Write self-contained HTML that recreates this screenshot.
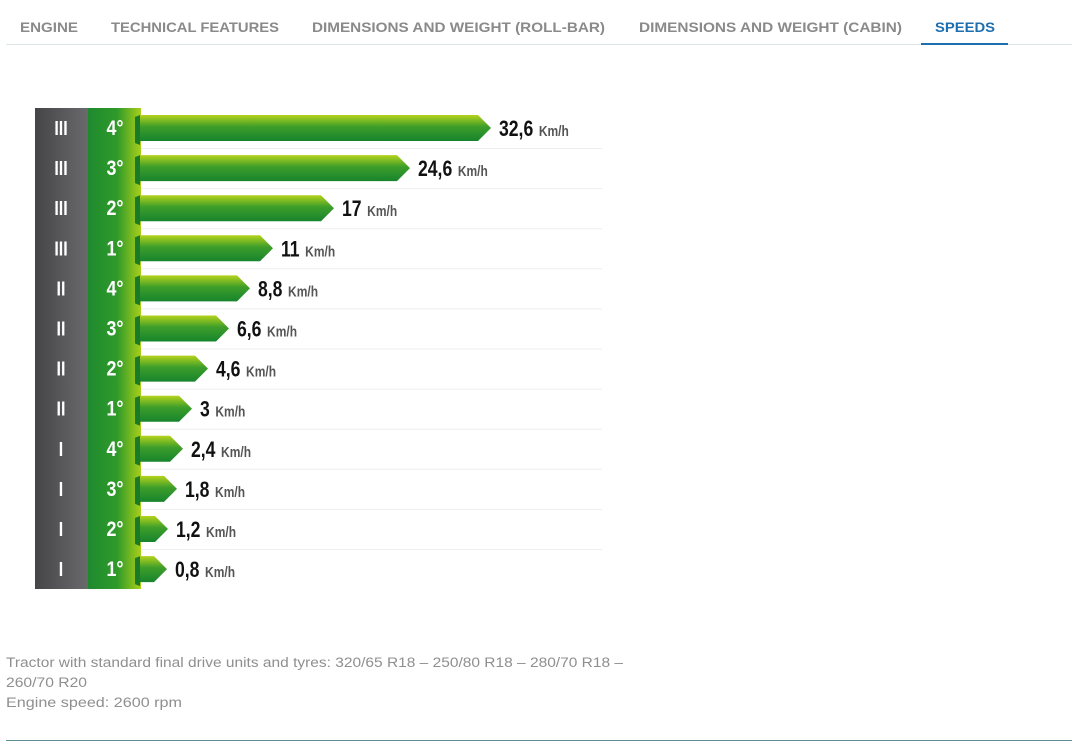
<!DOCTYPE html>
<html><head><meta charset="utf-8"><style>
body{margin:0;width:1072px;height:753px;background:#fff;overflow:hidden;font-family:"Liberation Sans",sans-serif;position:relative}
</style></head><body>
<svg id="s" width="1072" height="753" style="position:absolute;left:0;top:0">
<defs>
<linearGradient id="gray" x1="0" x2="1"><stop offset="0" stop-color="#454548"/><stop offset="1" stop-color="#6a6a6c"/></linearGradient>
<linearGradient id="gc" x1="0" x2="1"><stop offset="0" stop-color="#1e8a2e"/><stop offset="0.55" stop-color="#2f9a2a"/><stop offset="1" stop-color="#a9cf1a"/></linearGradient>
<linearGradient id="bar" x1="0" y1="0" x2="0" y2="1"><stop offset="0" stop-color="#b5d31c"/><stop offset="0.45" stop-color="#3d9e2a"/><stop offset="1" stop-color="#17842c"/></linearGradient>
</defs>
<rect x="6" y="44" width="1066" height="1" fill="#dfe6e9"/>
<g font-size="14" font-weight="bold" fill="#8a8a8a" font-family="Liberation Sans, sans-serif">
<text x="20" y="32" textLength="58" lengthAdjust="spacingAndGlyphs">ENGINE</text>
<text x="111" y="32" textLength="168" lengthAdjust="spacingAndGlyphs">TECHNICAL FEATURES</text>
<text x="312" y="32" textLength="293" lengthAdjust="spacingAndGlyphs">DIMENSIONS AND WEIGHT (ROLL-BAR)</text>
<text x="639" y="32" textLength="263" lengthAdjust="spacingAndGlyphs">DIMENSIONS AND WEIGHT (CABIN)</text>
<text x="935" y="32" textLength="60" lengthAdjust="spacingAndGlyphs" fill="#1e6fb0">SPEEDS</text>
</g>
<rect x="921" y="43" width="87" height="2" fill="#1e6fb0"/>
<rect x="35" y="108" width="53" height="481" fill="url(#gray)"/>
<rect x="88" y="108" width="53" height="481" fill="url(#gc)"/>
<g id="rows"></g>
<g font-size="13.5" fill="#8f8f8f" font-family="Liberation Sans, sans-serif">
<text x="6" y="667" textLength="617" lengthAdjust="spacingAndGlyphs">Tractor with standard final drive units and tyres: 320/65 R18 – 250/80 R18 – 280/70 R18 –</text>
<text x="6" y="687" textLength="81" lengthAdjust="spacingAndGlyphs">260/70 R20</text>
<text x="6" y="707" textLength="176" lengthAdjust="spacingAndGlyphs">Engine speed: 2600 rpm</text>
</g>
<rect x="6" y="740" width="1066" height="1" fill="#5a8f98"/>
</svg>
<script>
var d=[["III","4°",491,"32,6"],["III","3°",410,"24,6"],["III","2°",334,"17"],["III","1°",273,"11"],["II","4°",250,"8,8"],["II","3°",229,"6,6"],["II","2°",208,"4,6"],["II","1°",192,"3"],["I","4°",183,"2,4"],["I","3°",177,"1,8"],["I","2°",168,"1,2"],["I","1°",167,"0,8"]];
var h="";
var F='font-family="Liberation Sans, sans-serif" font-weight="bold"';
d.forEach(function(r,i){
 var c=128+i*40.1, t=c-13, b=c+13, tip=r[2], be=tip-13;
 if(i<11) h+='<line x1="141" x2="602" y1="'+(c+20.5)+'" y2="'+(c+20.5)+'" stroke="#eeeeee" stroke-width="1"/>';
 h+='<path d="M135 '+(t+2)+' L140 '+t+' L140 '+(b+4)+' L135 '+(b+2)+' Z" fill="#1a7a28"/>';
 h+='<path d="M140 '+t+' L'+be+' '+t+' L'+tip+' '+c+' L'+be+' '+b+' L140 '+b+' Z" fill="url(#bar)"/>';
 h+='<text transform="translate(61,'+(c+7)+') scale(0.8,1)" text-anchor="middle" '+F+' font-size="20" fill="#fff">'+r[0]+'</text>';
 h+='<text transform="translate(115,'+(c+7)+') scale(0.85,1)" text-anchor="middle" '+F+' font-size="21" fill="#fff">'+r[1]+'</text>';
 h+='<text transform="translate('+(tip+8)+','+(c+8)+') scale(0.8,1)" '+F+' font-size="22" fill="#111">'+r[3]+'<tspan dx="7" font-size="15" fill="#555">Km/h</tspan></text>';
});
document.getElementById("rows").innerHTML=h;
</script>
</body></html>
